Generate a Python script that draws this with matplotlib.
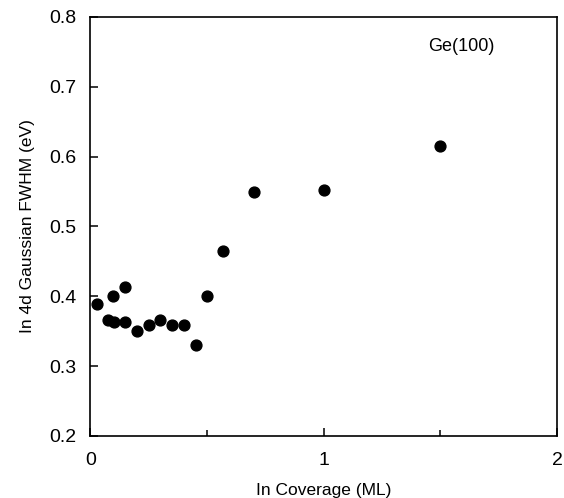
import matplotlib
matplotlib.use("Agg")
import matplotlib.pyplot as plt
from matplotlib.ticker import MultipleLocator

plt.rcParams['font.family'] = ['Liberation Sans', 'DejaVu Sans']

# In coverage (ML) vs In 4d Gaussian FWHM (eV)
coverage = [0.029, 0.078, 0.097, 0.100, 0.150, 0.150, 0.200, 0.251, 0.300,
            0.351, 0.401, 0.451, 0.501, 0.570, 0.700, 1.000, 1.500]
fwhm = [0.389, 0.366, 0.401, 0.363, 0.414, 0.363, 0.351, 0.359, 0.366,
        0.359, 0.359, 0.330, 0.401, 0.465, 0.550, 0.552, 0.615]

fig = plt.figure(figsize=(5.64, 4.98), dpi=100)
ax = fig.add_axes([0.160, 0.1245, 0.828, 0.8415])

ax.plot(coverage, fwhm, 'o', color='black', markersize=7.8, clip_on=False)

ax.set_xlim(0, 2)
ax.set_ylim(0.2, 0.8)
ax.xaxis.set_major_locator(MultipleLocator(1))
ax.xaxis.set_minor_locator(MultipleLocator(0.5))
ax.yaxis.set_major_locator(MultipleLocator(0.1))
ax.set_xticklabels([], minor=True)
ax.xaxis.set_major_formatter(plt.FuncFormatter(lambda v, p: "%d" % v))
ax.yaxis.set_major_formatter(plt.FuncFormatter(lambda v, p: "%.1f" % v))

ax.tick_params(which='both', direction='in', top=False, right=False,
               labelsize=14, width=1.1)
ax.tick_params(axis='x', pad=11.5)
ax.tick_params(axis='y', pad=10)
ax.tick_params(which='major', length=6)
ax.tick_params(which='minor', length=4)
for s in ax.spines.values():
    s.set_linewidth(1.2)

ax.set_xlabel("In Coverage (ML)", fontsize=12.5, labelpad=10)
ax.set_ylabel("In 4d Gaussian FWHM (eV)", fontsize=12.5, labelpad=10.5)
ax.text(1.59, 0.757, "Ge(100)", fontsize=13, ha='center', va='center')

fig.savefig("out.png", dpi=100)
